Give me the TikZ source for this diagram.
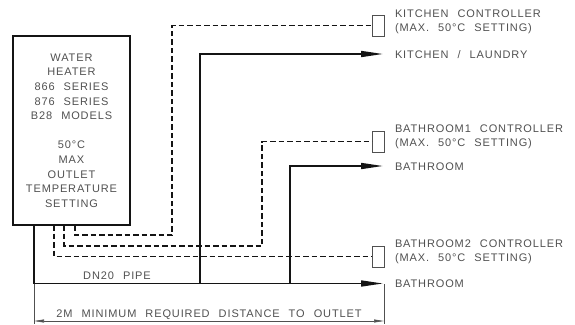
\documentclass[tikz,border=0pt]{standalone}
\usepackage{fontspec}
\setmainfont{Liberation Sans}[LetterSpace=8,WordSpace=2.3]
\usetikzlibrary{arrows.meta}
\definecolor{txtgray}{RGB}{80,80,80}
\definecolor{linedark}{RGB}{20,20,20}
\begin{document}
\begin{tikzpicture}[x=1pt,y=-1pt,
  every node/.style={inner sep=0pt,outer sep=0pt},
  lbl/.style={anchor=base west,text=txtgray,font=\fontsize{11}{14.6}\selectfont},
  heaterbox/.style={draw=linedark,line width=1.4pt,minimum width=117pt,minimum height=189pt,align=center,text=txtgray,font=\fontsize{11}{14.6}\selectfont},
  ctrlbox/.style={draw=txtgray,line width=0.6pt,minimum width=12pt,minimum height=21pt},
  pipe/.style={draw=linedark,line width=1.6pt},
  pipearrow/.style={pipe,-{Triangle[length=22pt,width=6pt]}},
  ctrlline/.style={draw=linedark,line width=1.2pt,dash pattern=on 5.5pt off 3pt},
  dimline/.style={draw=txtgray,line width=0.6pt},
  dimarrow/.style={dimline,{Triangle[length=10pt,width=3pt]}-{Triangle[length=10pt,width=3pt]}}
]
\useasboundingbox (0,0) rectangle (575,324);

% heater
\node[heaterbox] (heater) at (71.5,130.5) {WATER\\HEATER\\866 SERIES\\876 SERIES\\B28 MODELS\\[14.6pt]50°C\\MAX\\OUTLET\\TEMPERATURE\\SETTING};

% controllers
\node[ctrlbox] (kc) at (378,25.5) {};
\node[ctrlbox] (b1c) at (378,141.5) {};
\node[ctrlbox] (b2c) at (378,256.5) {};

% labels
\node[lbl] (kcl1) at (395,17) {KITCHEN CONTROLLER};
\node[lbl] (kcl2) at (395,31.5) {(MAX. 50°C SETTING)};
\node[lbl] (kl) at (395,58) {KITCHEN / LAUNDRY};
\node[lbl] (b1l1) at (395,132) {BATHROOM1 CONTROLLER};
\node[lbl] (b1l2) at (395,146.5) {(MAX. 50°C SETTING)};
\node[lbl] (b1l) at (395,170) {BATHROOM};
\node[lbl] (b2l1) at (395,247) {BATHROOM2 CONTROLLER};
\node[lbl] (b2l2) at (395,261.5) {(MAX. 50°C SETTING)};
\node[lbl] (b2l) at (395,287.5) {BATHROOM};
\node[lbl,anchor=base] (dn) at (117,279) {DN20 PIPE};
\node[lbl,anchor=base] (dist) at (209,317) {2M MINIMUM REQUIRED DISTANCE TO OUTLET};

% coordinates
\coordinate (o1) at (34,225);
\coordinate (c1) at (34,283.5);
\coordinate (j1) at (200,283.5);
\coordinate (j2) at (290,283.5);
\coordinate (endB2) at (383,283.5);
\coordinate (endK) at (383,54);
\coordinate (endB1) at (383,166);
\coordinate (d1) at (75,225);
\coordinate (t1) at (172,235);
\coordinate (d2) at (64,225);
\coordinate (t2) at (262,246);
\coordinate (d3) at (54,225);
\coordinate (x1a) at (34,284);
\coordinate (x1b) at (34,324);
\coordinate (x2a) at (384,284);
\coordinate (x2b) at (384,324);
\coordinate (m1) at (34,321);
\coordinate (m2) at (384,321);

% pipes
\draw[pipearrow] (o1) -- (c1) -- (endB2);
\draw[pipearrow] (j1) |- (endK);
\draw[pipearrow] (j2) |- (endB1);

% control wiring
\draw[ctrlline] (d1) |- (t1) |- (kc.west);
\draw[ctrlline] (d2) |- (t2) |- (b1c.west);
\draw[ctrlline] (d3) |- (b2c.west);

% dimension
\draw[dimline] (x1a) -- (x1b);
\draw[dimline] (x2a) -- (x2b);
\draw[dimarrow] (m1) -- (m2);
\end{tikzpicture}
\end{document}
